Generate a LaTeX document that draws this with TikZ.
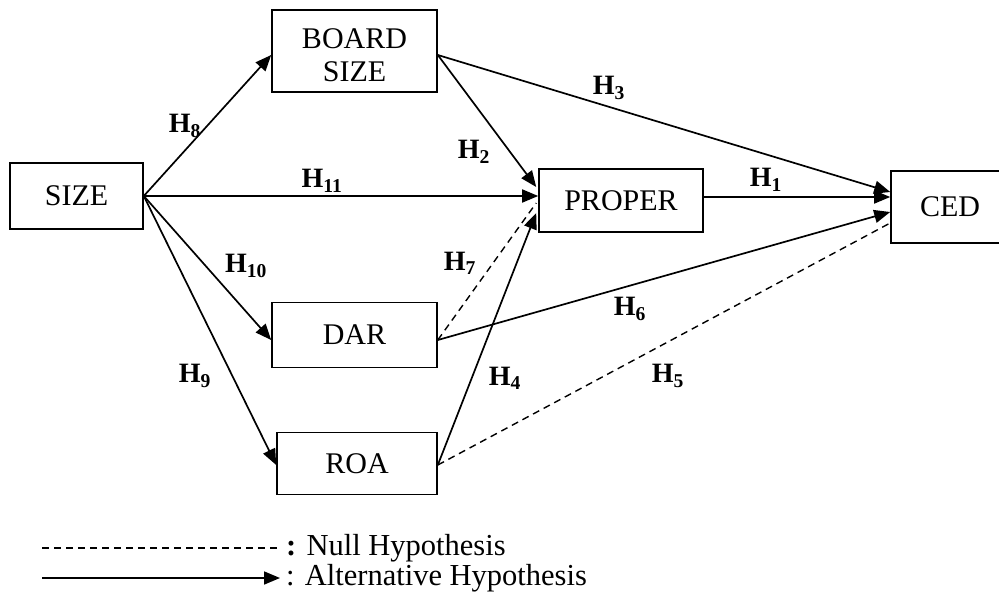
\documentclass[tikz,border=0pt]{standalone}
\usepackage{fontspec}
\setmainfont{Liberation Serif}
\usetikzlibrary{arrows.meta,calc}
\begin{document}
\begin{tikzpicture}[x=1pt,y=-1pt,
  box/.style={draw,line width=1.6pt,inner sep=0pt,font=\fontsize{30}{33}\selectfont,align=center},
  conn/.style={line width=1.7pt,-{Triangle[length=16pt,width=13pt]}},
  nullc/.style={line width=1.4pt,dash pattern=on 7pt off 5pt},
  hlab/.style={font=\fontsize{28}{30}\selectfont\bfseries,inner sep=0pt},
  legtext/.style={font=\fontsize{30.5}{33}\selectfont,anchor=west,inner sep=0pt}]
\useasboundingbox (0,0) rectangle (999,599);
\node[box,minimum width=165pt,minimum height=82pt] (board) at (354.5,51)
  {\raisebox{-7pt}[\height][\depth]{\begin{tabular}{@{}c@{}}BOARD\\SIZE\end{tabular}}};
\node[box,minimum width=133pt,minimum height=66pt] (size) at (76.5,196) {SIZE};
\node[box,minimum width=164pt,minimum height=63pt] (proper) at (621,200.5) {PROPER};
\node[box,minimum width=118pt,minimum height=72pt,text width=118pt] (ced) at (950,207) {CED\hspace*{7pt}};
\node[box,minimum width=165pt,minimum height=65pt] (dar) at (354.5,335) {DAR};
\node[box,minimum width=160pt,minimum height=62pt] (roa) at (357,463.5) {ROA};

\draw[conn] (size.east) -- ([yshift=-4pt]board.west);
\draw[conn] (size.east) -- (proper.west |- size.east);
\draw[conn] (size.east) -- ([yshift=-5pt]dar.west);
\draw[conn] (size.east) -- ([yshift=-1.5pt]roa.west);
\draw[conn] ([yshift=-4pt]board.east) -- ([xshift=-2pt,yshift=13.5pt]proper.west);
\draw[conn] ([yshift=-4pt]board.east) -- ([yshift=15pt]ced.west);
\draw[conn] ([yshift=3.5pt]proper.east) -- ([yshift=10pt]ced.west);
\draw[conn] ([yshift=-5pt]dar.east) -- ([yshift=-5pt]ced.west);
\draw[nullc] ([yshift=-5pt]dar.east) -- ([xshift=-2pt,yshift=-2.5pt]proper.west);
\draw[conn] ([yshift=-1.5pt]roa.east) -- ([xshift=-2pt,yshift=-12.5pt]proper.west);
\draw[nullc] ([yshift=-1.5pt]roa.east) -- ([yshift=-16pt]ced.west);

\node[hlab] (h8) at (185,126) {H\textsubscript{8}};
\node[hlab] (h11) at (322,181) {H\textsubscript{11}};
\node[hlab] (h2) at (474,152) {H\textsubscript{2}};
\node[hlab] (h3) at (609,88) {H\textsubscript{3}};
\node[hlab] (h1) at (766,180) {H\textsubscript{1}};
\node[hlab] (h10) at (246,266) {H\textsubscript{10}};
\node[hlab] (h7) at (460,263) {H\textsubscript{7}};
\node[hlab] (h6) at (630,309) {H\textsubscript{6}};
\node[hlab] (h9) at (195,376) {H\textsubscript{9}};
\node[hlab] (h4) at (505,378) {H\textsubscript{4}};
\node[hlab] (h5) at (668,376) {H\textsubscript{5}};

\coordinate (n1) at (42,548);
\coordinate (n2) at (280,548);
\coordinate (a1) at (42,578);
\coordinate (a2) at (280,578);
\draw[nullc] (n1) -- (n2);
\draw[conn] (a1) -- (a2);
\node[legtext] (nulltext) at (286,548) {{\bfseries :} Null Hypothesis};
\node[legtext] (alttext) at (286,578) {: Alternative Hypothesis};
\end{tikzpicture}
\end{document}
